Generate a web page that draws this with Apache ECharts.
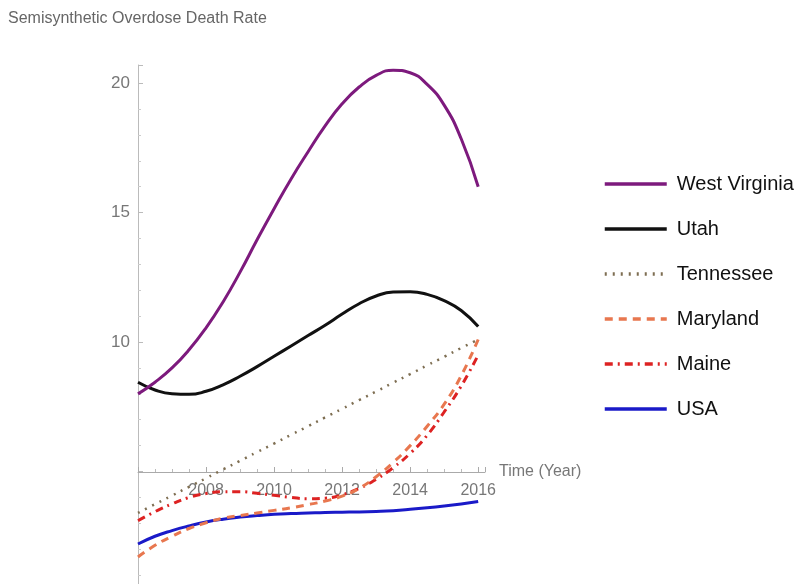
<!DOCTYPE html>
<html>
<head>
<meta charset="utf-8">
<script src="https://cdn.jsdelivr.net/npm/echarts@6/dist/echarts.min.js"></script>
<style>html,body{margin:0;padding:0;background:#fff}#c{width:796px;height:584px}</style>
</head>
<body>
<div id="c"></div>
<script>
// Data
const years = [2006, 2006.5, 2007, 2007.5, 2008, 2008.5, 2009, 2009.5, 2010, 2010.5, 2011, 2011.5, 2012, 2012.5, 2013, 2013.5, 2014, 2014.5, 2015, 2015.5, 2016];
const westVirginia = [8.0, 8.45, 9.0, 9.7, 10.55, 11.55, 12.7, 13.95, 15.15, 16.3, 17.35, 18.35, 19.2, 19.85, 20.3, 20.5, 20.4, 19.95, 19.15, 17.85, 16.0];
const utah = [8.45, 8.15, 8.0, 7.98, 8.1, 8.35, 8.68, 9.05, 9.45, 9.85, 10.25, 10.65, 11.08, 11.48, 11.78, 11.93, 11.94, 11.84, 11.6, 11.22, 10.6];
const tennessee = [3.4, 3.74, 4.07, 4.41, 4.74, 5.08, 5.41, 5.75, 6.08, 6.42, 6.75, 7.09, 7.42, 7.76, 8.09, 8.43, 8.76, 9.10, 9.43, 9.77, 10.1];
const maryland = [1.7, 2.15, 2.5, 2.8, 3.02, 3.2, 3.3, 3.4, 3.5, 3.6, 3.72, 3.86, 4.05, 4.35, 4.8, 5.35, 6.0, 6.75, 7.6, 8.7, 10.1];
const maine = [3.1, 3.45, 3.75, 4.0, 4.15, 4.22, 4.22, 4.16, 4.08, 4.0, 3.95, 3.97, 4.1, 4.35, 4.7, 5.15, 5.7, 6.4, 7.3, 8.3, 9.5];
const usa = [2.2, 2.5, 2.72, 2.9, 3.05, 3.16, 3.24, 3.3, 3.35, 3.38, 3.4, 3.42, 3.43, 3.44, 3.46, 3.49, 3.54, 3.6, 3.67, 3.75, 3.84];
const seriesNames = ['West Virginia', 'Utah', 'Tennessee', 'Maryland', 'Maine', 'USA'];
const xTickLabels = [2008, 2010, 2012, 2014, 2016];
const yTickLabels = [10, 15, 20];

const seriesValues = [westVirginia, utah, tennessee, maryland, maine, usa];
const styles = [
  {color: '#7D1A7D', width: 3, type: 'solid'},
  {color: '#111111', width: 3, type: 'solid'},
  {color: '#7E6E52', width: 2.5, type: [2, 6]},
  {color: '#E8774F', width: 3, type: [8, 6]},
  {color: '#DD2222', width: 3, type: [8, 5, 2, 5]},
  {color: '#1A1AC8', width: 3, type: 'solid'}
];
const font = 'Liberation Sans, Arial, sans-serif';

const chart = echarts.init(document.getElementById('c'));
chart.setOption({
  animation: false,
  backgroundColor: '#fff',
  title: {
    text: 'Semisynthetic Overdose Death Rate',
    left: 3, top: 6,
    textStyle: {fontSize: 16, fontWeight: 'normal', color: '#666', fontFamily: font}
  },
  legend: {
    orient: 'vertical',
    left: 603, top: 174, padding: 0,
    itemWidth: 62, itemHeight: 18, itemGap: 25,
    itemStyle: {opacity: 0},
    lineStyle: {width: 3.5},
    textStyle: {fontSize: 20, color: '#111', fontFamily: font, padding: [0, 0, 0, 5]},
    data: seriesNames
  },
  grid: {left: 138, right: 311, top: 65, height: 536, containLabel: false, outerBoundsMode: 'none'},
  xAxis: {
    type: 'value', min: 2006, max: 2016.2, interval: 2,
    offset: -129,
    name: 'Time (Year)', nameLocation: 'end', nameGap: 14,
    nameTextStyle: {fontSize: 16, color: '#777', fontFamily: font},
    axisLine: {show: true, lineStyle: {color: '#aaa', width: 1}},
    axisTick: {show: true, inside: true, length: 5, lineStyle: {color: '#aaa'}},
    minorTick: {show: true, splitNumber: 4, length: 3, lineStyle: {color: '#bbb'}},
    splitLine: {show: false},
    axisLabel: {
      fontSize: 16, color: '#777', fontFamily: font, margin: 11,
      showMaxLabel: false,
      formatter: v => xTickLabels.indexOf(v) >= 0 ? String(v) : ''
    }
  },
  yAxis: {
    type: 'value', min: 0, max: 20.7, interval: 5,
    axisLine: {show: true, lineStyle: {color: '#bbb', width: 1}},
    axisTick: {show: true, inside: true, length: 5, lineStyle: {color: '#bbb'}},
    minorTick: {show: true, splitNumber: 5, length: 3, lineStyle: {color: '#ccc'}},
    splitLine: {show: false},
    axisLabel: {
      fontSize: 17, color: '#777', fontFamily: font, margin: 8,
      showMaxLabel: false,
      formatter: v => yTickLabels.indexOf(v) >= 0 ? String(v) : ''
    }
  },
  series: seriesNames.map((name, i) => ({
    name: name,
    type: 'line',
    smooth: true,
    symbol: 'none',
    data: years.map((y, j) => [y, seriesValues[i][j]]),
    lineStyle: {color: styles[i].color, width: styles[i].width, type: styles[i].type},
    itemStyle: {color: styles[i].color},
    z: 10 - i
  }))
});
</script>
</body>
</html>
